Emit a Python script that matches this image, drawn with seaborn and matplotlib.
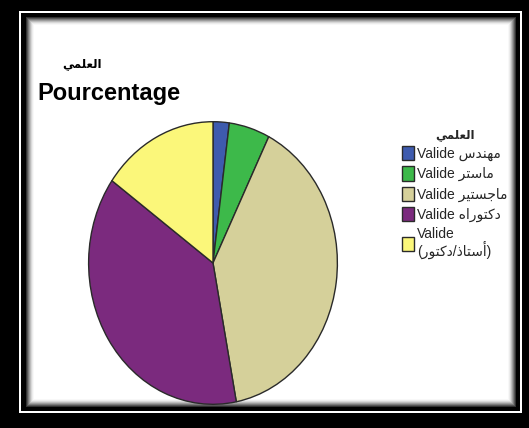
import matplotlib
matplotlib.use('Agg')
import matplotlib.pyplot as plt
import matplotlib.patches as mpatches
import seaborn as sns

# Données (pourcentages)
categories = ['ﺱﺪﻨﻬﻣ', 'ﺮﺘﺳﺎﻣ', 'ﺮﻴﺘﺴﺟﺎﻣ', 'ﻩﺍﺭﻮﺘﻛﺩ', '(ﺭﻮﺘﻛﺩ/ﺫﺎﺘﺳﺃ)']
pourcentages = [2.1, 5.3, 39.6, 37.9, 15.1]
couleurs = ['#3E5BAE', '#3DB94A', '#D5D09A', '#7B2A7E', '#FBF77A']
titre_ar = 'ﻲﻤﻠﻌﻟﺍ'

sns.set_theme(style='white')
plt.rcParams['font.family'] = ['Liberation Sans', 'DejaVu Sans']

W, H = 529, 428
fig = plt.figure(figsize=(W / 100, H / 100), dpi=100, facecolor='black')


def rect(x0, y0, x1, y1, **kw):
    # coordonnées en pixels, y depuis le haut
    r = mpatches.Rectangle((x0 / W, 1 - y1 / H), (x1 - x0) / W, (y1 - y0) / H,
                           transform=fig.transFigure, figure=fig, zorder=0, **kw)
    fig.patches.append(r)


# Cadre : filet blanc, bordure noire, ombre intérieure
rect(19, 11, 522, 413, facecolor='white', edgecolor='none')
rect(21, 13, 520, 411, facecolor='black', edgecolor='none')
shades = ['#303030', '#555555', '#7a7a7a', '#9c9c9c', '#bcbcbc', '#d8d8d8', '#ececec', '#f8f8f8']
for i, c in enumerate(shades):
    rect(26 + i, 17 + i, 516 - i, 407 - i, facecolor=c, edgecolor='none')
rect(34, 25, 508, 399, facecolor='white', edgecolor='none')

# Camembert (ellipse comme sur l'original)
ax = fig.add_axes([88 / W, 23 / H, 250 / W, 284 / H])
ax.set_zorder(5)
ax.set_facecolor('none')
wedges, _ = ax.pie(pourcentages, colors=sns.color_palette(couleurs), startangle=90,
                   counterclock=False,
                   wedgeprops=dict(edgecolor='#2a2a2a', linewidth=1.0))
ax.set_aspect('auto')
ax.set_xlim(-1.005, 1.005)
ax.set_ylim(-1.005, 1.005)
ax.axis('off')

# Titres
fig.text(62 / W, 1 - 58 / H, titre_ar, fontsize=8.5, fontweight='bold',
         ha='left', va='top', color='black', zorder=6)
fig.text(37 / W, 1 - 82 / H, 'Pourcentage', fontsize=17, fontweight='bold',
         ha='left', va='top', color='black', zorder=6)

# Légende
labels = ['Valide ' + c for c in categories[:4]] + ['Valide\n' + categories[4]]
leg = fig.legend(wedges, labels, title=titre_ar, loc='upper left',
                 bbox_to_anchor=(392 / W, 1 - 119 / H), frameon=False,
                 fontsize=10, title_fontsize=8.5, handlelength=0.9, handleheight=1.2,
                 handletextpad=0.2, labelspacing=0.38, borderpad=0.2)
leg.get_title().set_fontweight('bold')
leg.set_zorder(6)
for t in leg.get_texts()[-1:]:
    t.set_linespacing(0.95)

plt.savefig('out.png', dpi=100, facecolor='black')
